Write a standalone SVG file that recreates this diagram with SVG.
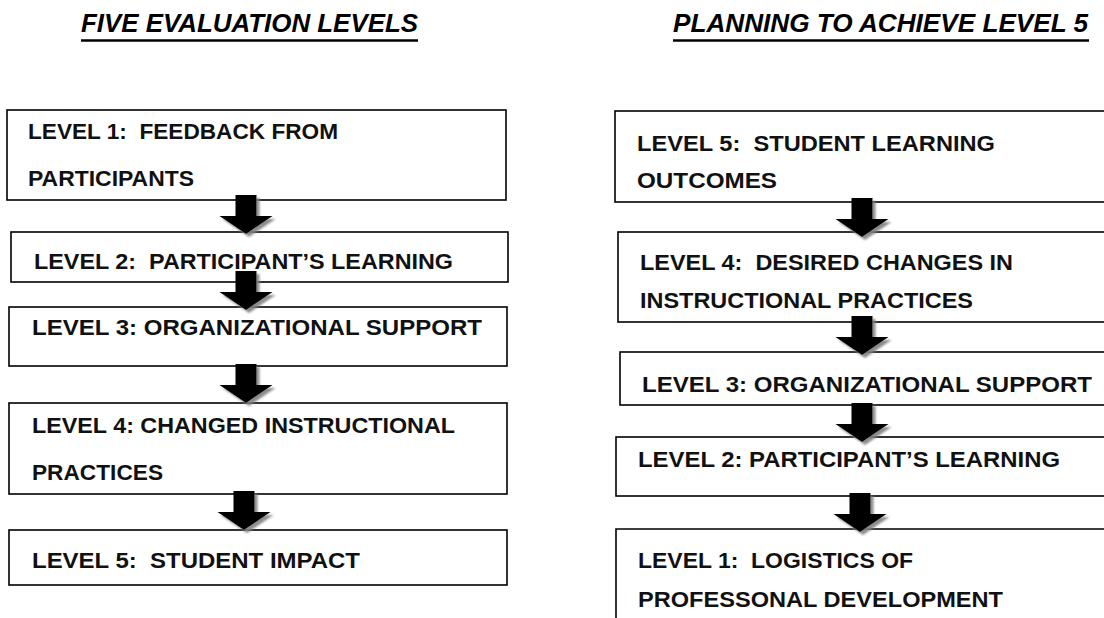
<svg xmlns="http://www.w3.org/2000/svg" xmlns:xlink="http://www.w3.org/1999/xlink" width="1104" height="618" viewBox="0 0 1104 618">
  <style>
    .box { fill: #ffffff; stroke: #000000; stroke-width: 1.6; }
    .lbl { font-family: "Liberation Sans", Arial, sans-serif; font-weight: bold; font-size: 22px; fill: #111111; white-space: pre; }
    .ttl { font-family: "Liberation Sans", Arial, sans-serif; font-weight: bold; font-style: italic; font-size: 26px; fill: #000000; }
    .ul { stroke: #000000; stroke-width: 2.5; }
    .arrow { fill: #000000; filter: url(#shadow); }
  </style>
  <defs>
    <filter id="shadow" x="-30%" y="-30%" width="170%" height="170%">
      <feDropShadow dx="3" dy="3" stdDeviation="1.3" flood-color="#7f7f7f" flood-opacity="0.9"/>
    </filter>
    <path id="arr" d="M -10.5 0 H 10.5 V 21 H 26.5 L 0 39 L -26.5 21 H -10.5 Z"/>
  </defs>
  <rect width="1104" height="618" fill="#ffffff"/>

  <g id="title-left">
    <text class="ttl" x="81" y="32" textLength="337" lengthAdjust="spacingAndGlyphs">FIVE EVALUATION LEVELS</text>
    <line class="ul" x1="81" y1="40.5" x2="418" y2="40.5"/>
  </g>
  <g id="title-right">
    <text class="ttl" x="673" y="32" textLength="415" lengthAdjust="spacingAndGlyphs">PLANNING TO ACHIEVE LEVEL 5</text>
    <line class="ul" x1="673" y1="40.5" x2="1089" y2="40.5"/>
  </g>

  <!-- Left column -->
  <g id="L1">
    <rect class="box" x="7" y="110" width="499" height="90"/>
    <text class="lbl" x="28" y="139" textLength="310" lengthAdjust="spacingAndGlyphs">LEVEL 1:  FEEDBACK FROM</text>
    <text class="lbl" x="28" y="186" textLength="166" lengthAdjust="spacingAndGlyphs">PARTICIPANTS</text>
  </g>
  <g id="L2">
    <rect class="box" x="11" y="232" width="497" height="50"/>
    <text class="lbl" x="34" y="269" textLength="419" lengthAdjust="spacingAndGlyphs">LEVEL 2:  PARTICIPANT’S LEARNING</text>
  </g>
  <g id="L3">
    <rect class="box" x="9" y="307" width="498" height="59"/>
    <text class="lbl" x="32" y="335" textLength="450" lengthAdjust="spacingAndGlyphs">LEVEL 3: ORGANIZATIONAL SUPPORT</text>
  </g>
  <g id="L4">
    <rect class="box" x="9" y="403" width="498" height="91"/>
    <text class="lbl" x="32" y="433" textLength="423" lengthAdjust="spacingAndGlyphs">LEVEL 4: CHANGED INSTRUCTIONAL</text>
    <text class="lbl" x="32" y="480" textLength="131" lengthAdjust="spacingAndGlyphs">PRACTICES</text>
  </g>
  <g id="L5">
    <rect class="box" x="9" y="530" width="498" height="55"/>
    <text class="lbl" x="32" y="568" textLength="328" lengthAdjust="spacingAndGlyphs">LEVEL 5:  STUDENT IMPACT</text>
  </g>

  <!-- Right column -->
  <g id="R5">
    <rect class="box" x="615" y="111" width="500" height="91"/>
    <text class="lbl" x="637" y="151" textLength="358" lengthAdjust="spacingAndGlyphs">LEVEL 5:  STUDENT LEARNING</text>
    <text class="lbl" x="637" y="188" textLength="140" lengthAdjust="spacingAndGlyphs">OUTCOMES</text>
  </g>
  <g id="R4">
    <rect class="box" x="618" y="232" width="500" height="90"/>
    <text class="lbl" x="640" y="270" textLength="373" lengthAdjust="spacingAndGlyphs">LEVEL 4:  DESIRED CHANGES IN</text>
    <text class="lbl" x="640" y="308" textLength="333" lengthAdjust="spacingAndGlyphs">INSTRUCTIONAL PRACTICES</text>
  </g>
  <g id="R3">
    <rect class="box" x="620" y="352" width="500" height="53"/>
    <text class="lbl" x="642" y="392" textLength="450" lengthAdjust="spacingAndGlyphs">LEVEL 3: ORGANIZATIONAL SUPPORT</text>
  </g>
  <g id="R2">
    <rect class="box" x="616" y="437" width="500" height="59"/>
    <text class="lbl" x="638" y="467" textLength="422" lengthAdjust="spacingAndGlyphs">LEVEL 2: PARTICIPANT’S LEARNING</text>
  </g>
  <g id="R1">
    <path d="M 616 620 V 529 H 1110" fill="#ffffff" stroke="#000000" stroke-width="1.6"/>
    <text class="lbl" x="638" y="568" textLength="275" lengthAdjust="spacingAndGlyphs">LEVEL 1:  LOGISTICS OF</text>
    <text class="lbl" x="638" y="607" textLength="365" lengthAdjust="spacingAndGlyphs">PROFESSONAL DEVELOPMENT</text>
  </g>

  <g id="connectors">
    <use xlink:href="#arr" href="#arr" class="arrow" transform="translate(246,195)"/>
    <use xlink:href="#arr" href="#arr" class="arrow" transform="translate(246,271)"/>
    <use xlink:href="#arr" href="#arr" class="arrow" transform="translate(246,364)"/>
    <use xlink:href="#arr" href="#arr" class="arrow" transform="translate(244,491)"/>
    <use xlink:href="#arr" href="#arr" class="arrow" transform="translate(862,198)"/>
    <use xlink:href="#arr" href="#arr" class="arrow" transform="translate(862,316)"/>
    <use xlink:href="#arr" href="#arr" class="arrow" transform="translate(862,403)"/>
    <use xlink:href="#arr" href="#arr" class="arrow" transform="translate(860,493)"/>
  </g>
</svg>
